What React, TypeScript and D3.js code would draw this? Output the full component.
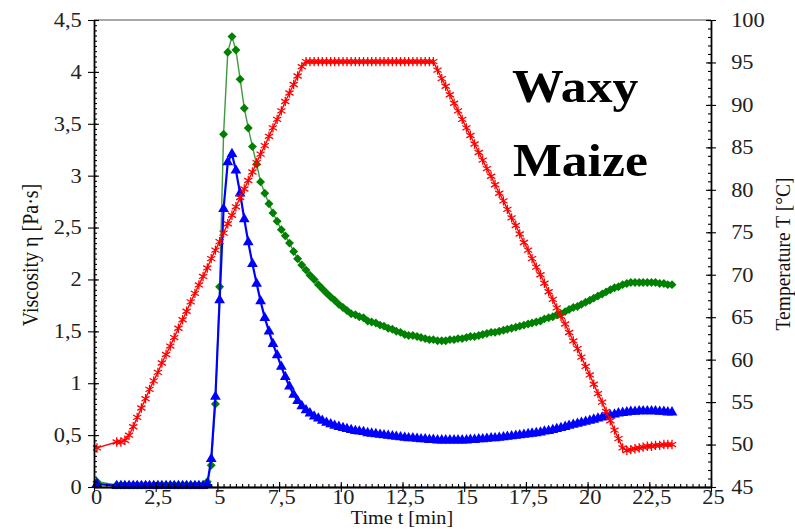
import * as d3 from "d3";
import { useEffect, useRef } from "react";

// sample times [min]
const times = [
  0.12,
  0.92, 1.09, 1.25, 1.42, 1.59, 1.75, 1.92, 2.09, 2.25, 2.42,
  2.59, 2.75, 2.92, 3.09, 3.25, 3.42, 3.59, 3.75, 3.92, 4.09,
  4.25, 4.42, 4.59, 4.75, 4.92, 5.09, 5.25, 5.42, 5.59, 5.75,
  5.92, 6.09, 6.25, 6.42, 6.59, 6.75, 6.92, 7.09, 7.25, 7.42,
  7.59, 7.75, 7.92, 8.09, 8.25, 8.42, 8.59, 8.75, 8.92, 9.09,
  9.25, 9.42, 9.59, 9.75, 9.92, 10.09, 10.25, 10.42, 10.59, 10.75,
  10.92, 11.09, 11.25, 11.42, 11.59, 11.75, 11.92, 12.09, 12.25, 12.42,
  12.59, 12.75, 12.92, 13.09, 13.25, 13.42, 13.59, 13.75, 13.92, 14.09,
  14.25, 14.42, 14.59, 14.75, 14.92, 15.09, 15.25, 15.42, 15.59, 15.75,
  15.92, 16.09, 16.25, 16.42, 16.59, 16.75, 16.92, 17.09, 17.25, 17.42,
  17.59, 17.75, 17.92, 18.09, 18.25, 18.42, 18.59, 18.75, 18.92, 19.09,
  19.25, 19.42, 19.59, 19.75, 19.92, 20.09, 20.25, 20.42, 20.59, 20.75,
  20.92, 21.09, 21.25, 21.42, 21.59, 21.75, 21.92, 22.09, 22.25, 22.42,
  22.59, 22.75, 22.92, 23.09, 23.25, 23.42,
];

// temperature T [°C] (right axis)
const temperature = [
  49.6,
  50.3, 50.3, 50.5, 51.1, 52.1, 53.2, 54.3, 55.4, 56.5, 57.5,
  58.5, 59.6, 60.6, 61.6, 62.6, 63.7, 64.7, 65.7, 66.8, 67.8,
  68.8, 69.8, 70.8, 71.9, 72.9, 73.9, 74.9, 76.0, 77.0, 78.0,
  79.1, 80.1, 81.1, 82.1, 83.2, 84.2, 85.2, 86.3, 87.3, 88.3,
  89.3, 90.4, 91.4, 92.4, 93.4, 94.5, 95.1, 95.1, 95.1, 95.1,
  95.1, 95.1, 95.1, 95.1, 95.1, 95.1, 95.1, 95.1, 95.1, 95.1,
  95.1, 95.1, 95.1, 95.1, 95.1, 95.1, 95.1, 95.1, 95.1, 95.1,
  95.1, 95.1, 95.1, 95.1, 95.1, 95.1, 95.1, 95.1, 94.1, 93.1,
  92.2, 91.2, 90.2, 89.3, 88.3, 87.3, 86.4, 85.4, 84.4, 83.5,
  82.5, 81.6, 80.6, 79.6, 78.7, 77.7, 76.7, 75.8, 74.8, 73.8,
  72.9, 71.9, 70.9, 70.0, 69.0, 68.0, 67.1, 66.1, 65.1, 64.2,
  63.2, 62.2, 61.3, 60.3, 59.2, 58.2, 57.1, 56.0, 55.0, 53.9,
  52.8, 51.7, 50.7, 49.6, 49.3, 49.4, 49.5, 49.6, 49.7, 49.8,
  49.8, 49.9, 49.9, 50.0, 50.0, 50.0,
];

// viscosity η [Pa·s], green diamonds
const viscosityGreen = [
  0.05,
  0.02, 0.02, 0.02, 0.02, 0.02, 0.02, 0.02, 0.02, 0.02, 0.02,
  0.02, 0.02, 0.02, 0.02, 0.02, 0.02, 0.02, 0.02, 0.02, 0.02,
  0.02, 0.02, 0.05, 0.21, 0.80, 1.93, 3.40, 4.19, 4.34, 4.21,
  3.93, 3.65, 3.46, 3.28, 3.11, 2.94, 2.83, 2.73, 2.64, 2.56,
  2.48, 2.42, 2.35, 2.27, 2.20, 2.14, 2.09, 2.04, 2.00, 1.95,
  1.91, 1.87, 1.83, 1.80, 1.76, 1.73, 1.70, 1.67, 1.66, 1.64,
  1.63, 1.60, 1.59, 1.58, 1.56, 1.55, 1.53, 1.52, 1.50, 1.49,
  1.47, 1.46, 1.46, 1.45, 1.44, 1.43, 1.42, 1.42, 1.41, 1.41,
  1.41, 1.42, 1.42, 1.43, 1.43, 1.44, 1.45, 1.45, 1.46, 1.47,
  1.48, 1.49, 1.49, 1.50, 1.51, 1.52, 1.53, 1.54, 1.55, 1.56,
  1.57, 1.58, 1.59, 1.60, 1.62, 1.63, 1.64, 1.66, 1.67, 1.69,
  1.71, 1.73, 1.74, 1.76, 1.78, 1.80, 1.82, 1.84, 1.86, 1.88,
  1.90, 1.92, 1.93, 1.95, 1.96, 1.97, 1.97, 1.97, 1.97, 1.97,
  1.97, 1.97, 1.96, 1.96, 1.95, 1.95,
];

// viscosity η [Pa·s], blue triangles
const viscosityBlue = [
  0.03,
  0.01, 0.01, 0.01, 0.01, 0.01, 0.01, 0.01, 0.01, 0.01, 0.01,
  0.01, 0.01, 0.01, 0.01, 0.01, 0.01, 0.01, 0.01, 0.01, 0.01,
  0.01, 0.01, 0.03, 0.27, 0.87, 1.80, 2.68, 3.13, 3.21, 3.05,
  2.83, 2.58, 2.36, 2.15, 1.96, 1.79, 1.63, 1.50, 1.38, 1.27,
  1.16, 1.06, 0.97, 0.89, 0.83, 0.78, 0.74, 0.71, 0.68, 0.66,
  0.64, 0.62, 0.605, 0.59, 0.58, 0.57, 0.56, 0.55, 0.54, 0.535,
  0.53, 0.52, 0.515, 0.51, 0.505, 0.50, 0.495, 0.49, 0.485, 0.48,
  0.475, 0.47, 0.47, 0.465, 0.46, 0.46, 0.455, 0.455, 0.45, 0.45,
  0.45, 0.45, 0.45, 0.45, 0.45, 0.45, 0.455, 0.455, 0.46, 0.46,
  0.465, 0.47, 0.47, 0.475, 0.48, 0.485, 0.49, 0.495, 0.50, 0.505,
  0.51, 0.515, 0.52, 0.525, 0.535, 0.54, 0.55, 0.56, 0.57, 0.58,
  0.59, 0.60, 0.61, 0.62, 0.63, 0.64, 0.65, 0.66, 0.67, 0.68,
  0.69, 0.70, 0.71, 0.715, 0.72, 0.725, 0.725, 0.73, 0.73, 0.73,
  0.73, 0.73, 0.725, 0.725, 0.72, 0.72,
];

const xTicks = [0, 2.5, 5, 7.5, 10, 12.5, 15, 17.5, 20, 22.5, 25];
const leftTicks = [0, 0.5, 1, 1.5, 2, 2.5, 3, 3.5, 4, 4.5];
const rightTicks = [45, 50, 55, 60, 65, 70, 75, 80, 85, 90, 95, 100];

const W = 795;
const H = 529;
const FONT = "'Liberation Serif', 'Times New Roman', serif";
const SX = 1.12; // the source picture is stretched sideways a little

const fmt = (d: number) => String(d).replace(".", ",");

const App = () => {
  const svgRef = useRef<SVGSVGElement | null>(null);

  useEffect(() => {
    const svg = d3.select(svgRef.current);
    svg.selectAll("*").remove();

    const x = d3.scaleLinear().domain([0, 25]).range([94, 711]);
    const yL = d3.scaleLinear().domain([0, 4.5]).range([487, 20]);
    const yR = d3.scaleLinear().domain([45, 100]).range([487, 20]);

    // top frame line
    svg
      .append("line")
      .attr("x1", x(0))
      .attr("x2", x(25))
      .attr("y1", yL(4.5))
      .attr("y2", yL(4.5))
      .attr("stroke", "#8a8a8a")
      .attr("stroke-width", 1.3);

    const plot = svg.append("g");

    const lineL = d3
      .line<number>()
      .x((_, i) => x(times[i]))
      .y((d) => yL(d));
    const lineR = d3
      .line<number>()
      .x((_, i) => x(times[i]))
      .y((d) => yR(d));

    // green series
    plot
      .append("path")
      .attr("d", lineL(viscosityGreen))
      .attr("fill", "none")
      .attr("stroke", "#3f9a3f")
      .attr("stroke-width", 1.4);
    plot
      .append("g")
      .selectAll("path")
      .data(viscosityGreen)
      .join("path")
      .attr("d", d3.symbol().type(d3.symbolSquare).size(40)())
      .attr("transform", (d, i) => `translate(${x(times[i])},${yL(d)}) rotate(45)`)
      .attr("fill", "#008000");

    // blue series
    plot
      .append("path")
      .attr("d", lineL(viscosityBlue))
      .attr("fill", "none")
      .attr("stroke", "#0000ff")
      .attr("stroke-width", 2.2);
    plot
      .append("g")
      .selectAll("path")
      .data(viscosityBlue)
      .join("path")
      .attr("d", d3.symbol().type(d3.symbolTriangle).size(50)())
      .attr("transform", (d, i) => `translate(${x(times[i])},${yL(d)})`)
      .attr("fill", "#0000ff");

    // red temperature series
    const asterisk = (d3 as any).symbolAsterisk ?? d3.symbolCross;
    plot
      .append("path")
      .attr("d", lineR(temperature))
      .attr("fill", "none")
      .attr("stroke", "#ff0000")
      .attr("stroke-width", 1.4);
    plot
      .append("g")
      .selectAll("path")
      .data(temperature)
      .join("path")
      .attr("d", d3.symbol().type(asterisk).size(62)())
      .attr("transform", (d, i) => `translate(${x(times[i])},${yR(d)})`)
      .attr("fill", "none")
      .attr("stroke", "#ff0000")
      .attr("stroke-width", 1.3);

    const styleAxis = (g: any) => {
      g.select(".domain").attr("stroke", "#000").attr("stroke-width", 1.3);
      g.selectAll(".tick line").attr("stroke", "#000").attr("stroke-width", 1.1);
      g.selectAll(".tick text")
        .attr("font-family", FONT)
        .attr("font-size", 20)
        .attr("fill", "#222")
        .attr("transform", `scale(${SX},1)`);
    };

    // left axis
    const gL = svg.append("g").attr("transform", `translate(${x(0)},0)`);
    gL.append("g")
      .call(d3.axisRight(yL).tickValues(d3.range(0, 4.5001, 0.05)).tickSize(3).tickSizeOuter(0).tickFormat(() => ""))
      .call(styleAxis);
    gL.append("g")
      .call(d3.axisRight(yL).tickValues(leftTicks).tickSize(5).tickSizeOuter(0).tickFormat(() => ""))
      .call(styleAxis);
    gL.append("g")
      .call(d3.axisLeft(yL).tickValues(leftTicks).tickSize(6).tickSizeOuter(0).tickPadding(5).tickFormat((d) => fmt(+d)))
      .call(styleAxis);

    // right axis
    const gR = svg.append("g").attr("transform", `translate(${x(25)},0)`);
    gR.append("g")
      .call(d3.axisLeft(yR).tickValues(d3.range(45, 100.001, 1)).tickSize(3).tickSizeOuter(0).tickFormat(() => ""))
      .call(styleAxis);
    gR.append("g")
      .call(d3.axisLeft(yR).tickValues(rightTicks).tickSize(5).tickSizeOuter(0).tickFormat(() => ""))
      .call(styleAxis);
    gR.append("g")
      .call(d3.axisRight(yR).tickValues(rightTicks).tickSize(5).tickSizeOuter(0).tickPadding(13).tickFormat((d) => String(d)))
      .call(styleAxis);

    // bottom axis
    const gB = svg.append("g").attr("transform", `translate(0,${yL(0)})`);
    gB.append("g")
      .call(d3.axisTop(x).tickValues(d3.range(0, 25.001, 0.25)).tickSize(3).tickSizeOuter(0).tickFormat(() => ""))
      .call(styleAxis);
    gB.append("g")
      .call(d3.axisTop(x).tickValues(xTicks).tickSize(5).tickSizeOuter(0).tickFormat(() => ""))
      .call(styleAxis);
    gB.append("g")
      .call(d3.axisBottom(x).tickValues(xTicks).tickSize(5).tickSizeOuter(0).tickFormat((d) => fmt(+d)))
      .call(styleAxis);
    gB.selectAll(".tick text").attr("x", 1.8).attr("y", 3);

    // axis titles
    svg
      .append("text")
      .attr("transform", `translate(402,524) scale(${SX},1)`)
      .attr("text-anchor", "middle")
      .attr("font-family", FONT)
      .attr("font-size", 18)
      .attr("fill", "#111")
      .text("Time t [min]");

    svg
      .append("text")
      .attr("transform", `translate(30,255) scale(${SX},1) rotate(-90)`)
      .attr("text-anchor", "middle")
      .attr("dy", "0.35em")
      .attr("font-family", FONT)
      .attr("font-size", 20)
      .attr("fill", "#111")
      .text("Viscosity η [Pa·s]");

    svg
      .append("text")
      .attr("transform", `translate(782,254) scale(${SX},1) rotate(-90)`)
      .attr("text-anchor", "middle")
      .attr("dy", "0.35em")
      .attr("font-family", FONT)
      .attr("font-size", 19.5)
      .attr("fill", "#111")
      .text("Temperature T [°C]");

    // sample name
    const name = svg
      .append("g")
      .attr("font-family", FONT)
      .attr("font-weight", "bold")
      .attr("font-size", 47)
      .attr("fill", "#000");
    name.append("text").attr("transform", `translate(512,102) scale(1.1,1)`).text("Waxy");
    name.append("text").attr("transform", `translate(513,176) scale(1.1,1)`).text("Maize");
  }, []);

  return (
    <div style={{ position: "absolute", left: 0, top: 0, width: W, height: H, background: "#fff" }}>
      <svg ref={svgRef} width={W} height={H}></svg>
    </div>
  );
};

export default App;
